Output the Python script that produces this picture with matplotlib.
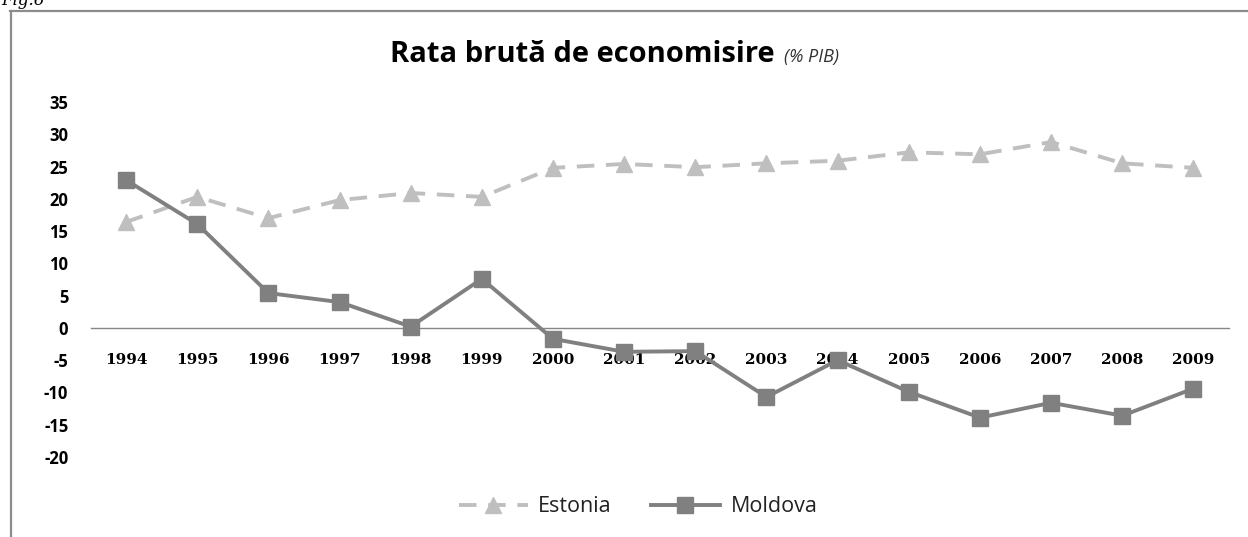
"""
plot.py — Rata brută de economisire (% PIB), Estonia vs Moldova, 1994-2009
"""

import matplotlib
matplotlib.use("Agg")
import matplotlib.pyplot as plt
from matplotlib.lines import Line2D

# ── data ─────────────────────────────────────────────────────────────────────
YEARS   = [str(y) for y in range(1994, 2010)]
ESTONIA = [16.4, 20.3, 17.0, 19.8, 20.9, 20.3, 24.8, 25.4,
           24.9, 25.5, 25.9, 27.2, 26.9, 28.8, 25.5, 24.8]
MOLDOVA = [22.9, 16.1, 5.4, 4.0, 0.2, 7.6, -1.7, -3.7,
           -3.6, -10.7, -5.0, -9.9, -13.9, -11.6, -13.6, -9.4]
Y_TICKS = list(range(-20, 40, 5))

# ── style ────────────────────────────────────────────────────────────────────
C_EST   = "#bfbfbf"
C_MOL   = "#808080"
SANS    = "Open Sans"
W, H    = 1248, 537


def main():
    fig = plt.figure(figsize=(W / 100, H / 100), dpi=100)

    # outer frame (left + top edge only, as in the cropped source)
    fig.add_artist(Line2D([10.5 / W, 10.5 / W], [0, 1 - 11 / H],
                          color="#8c8c8c", lw=1.6, transform=fig.transFigure))
    fig.add_artist(Line2D([10 / W, 1], [1 - 11 / H, 1 - 11 / H],
                          color="#8c8c8c", lw=1.6, transform=fig.transFigure))
    fig.text(1 / W, 1 - 5 / H, "Fig.6", family="DejaVu Serif",
             style="italic", fontsize=12, va="baseline", ha="left")

    ax = fig.add_axes([90.5 / W, (H - 457) / H, (1229 - 90.5) / W, 355 / H])
    x = list(range(len(YEARS)))
    ax.plot(x, ESTONIA, color=C_EST, lw=2.8, ls=(0, (4.5, 3)),
            marker="^", ms=11.5, mec=C_EST, mfc=C_EST, label="Estonia")
    ax.plot(x, MOLDOVA, color=C_MOL, lw=2.8,
            marker="s", ms=11, mec=C_MOL, mfc=C_MOL, label="Moldova")

    ax.set_xlim(-0.5, len(YEARS) - 0.5)
    ax.set_ylim(-20, 35)
    for s in ("top", "right", "left"):
        ax.spines[s].set_visible(False)
    ax.spines["bottom"].set_position(("data", 0))
    ax.spines["bottom"].set_color("#868686")
    ax.spines["bottom"].set_linewidth(1.0)
    ax.set_zorder(1)
    for ln in ax.lines:
        ln.set_zorder(3)

    ax.set_xticks(x)
    ax.set_xticklabels(YEARS, family="DejaVu Serif", fontweight="bold",
                       fontsize=11)
    ax.tick_params(axis="x", length=0, pad=18)
    ax.set_yticks(Y_TICKS)
    ax.set_yticklabels([str(v) for v in Y_TICKS], family=SANS,
                       fontweight="bold", fontsize=12)
    ax.tick_params(axis="y", length=0, pad=16)

    # title: bold part + small italic unit
    t1 = fig.text(390 / W, (H - 62) / H, "Rata brută de economisire",
                  family=SANS, fontweight="bold", fontsize=21,
                  ha="left", va="baseline")
    fig.canvas.draw()
    bb = t1.get_window_extent()
    fig.text((bb.x1 + 9) / W, (H - 62) / H, "(% PIB)", family=SANS,
             style="italic", fontsize=13, color="#333333",
             ha="left", va="baseline")

    fig.legend(loc="center", bbox_to_anchor=(638 / W, (H - 507) / H),
               ncol=2, frameon=False, prop={"family": SANS, "size": 15.5},
               handlelength=3.2, columnspacing=1.8, handletextpad=0.5,
               labelcolor="#222222")

    fig.savefig("out.png", dpi=100)
    plt.close(fig)


if __name__ == "__main__":
    main()
